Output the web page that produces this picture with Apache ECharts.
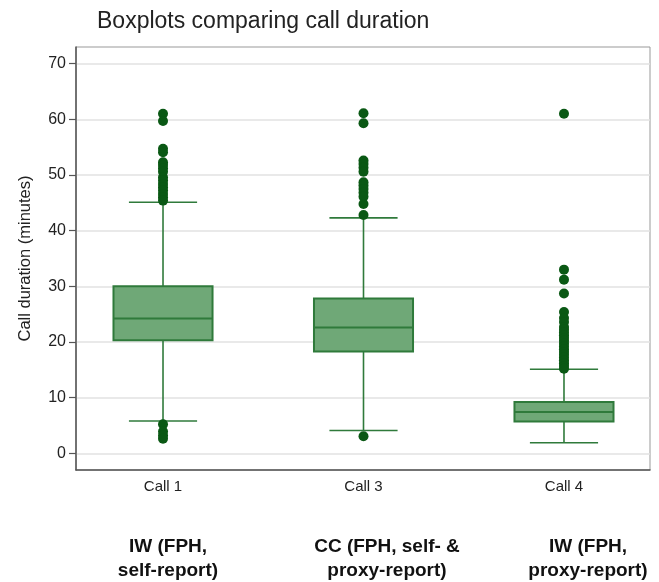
<!DOCTYPE html>
<html>
<head>
<meta charset="utf-8">
<script src="https://cdn.jsdelivr.net/npm/echarts@6/dist/echarts.min.js"></script>
<style>html,body{margin:0;padding:0;background:#fff}#c{width:659px;height:582px}</style>
</head>
<body>
<div id="c"></div>
<script>
const categories = ['Call 1', 'Call 3', 'Call 4'];
const groupLabels = ['IW (FPH,\nself-report)', 'CC (FPH, self- &\nproxy-report)', 'IW (FPH,\nproxy-report)'];
const yTicks = [0, 10, 20, 30, 40, 50, 60, 70];
// [lowerWhisker, Q1, median, Q3, upperWhisker]
const call1Box = [5.8, 20.3, 24.2, 30.0, 45.1];
const call3Box = [4.1, 18.3, 22.6, 27.8, 42.3];
const call4Box = [1.9, 5.7, 7.4, 9.2, 15.1];
const call1Outliers = [61.0, 59.7, 54.7, 54.1, 52.3, 51.8, 51.2, 50.6, 49.6, 49.0, 48.4, 47.8, 47.2, 46.6, 46.0, 45.4, 5.2, 3.9, 3.2, 2.6];
const call3Outliers = [61.1, 59.3, 52.6, 52.0, 51.3, 50.6, 48.7, 48.1, 47.5, 46.8, 46.1, 44.8, 42.8, 3.05];
const call4Outliers = [61.0, 33.0, 31.2, 28.7, 25.4, 24.3, 23.6, 22.7, 22.2, 21.7, 21.2, 20.7, 20.2, 19.7, 19.2, 18.7, 18.2, 17.7, 17.2, 16.7, 16.2, 15.7, 15.2];

const boxes = [call1Box, call3Box, call4Box];
const outliers = [call1Outliers, call3Outliers, call4Outliers];
const boxData = boxes.map((b, i) => [i + 1].concat(b));
const outlierData = [];
outliers.forEach((arr, i) => arr.forEach(v => outlierData.push([i + 1, v])));

const fill = '#6fa877', stroke = '#2f7a3b', dot = '#0a5814';
const ff = 'Liberation Sans, Arial, sans-serif';

const chart = echarts.init(document.getElementById('c'), null, {renderer: 'canvas'});
chart.setOption({
  animation: false,
  backgroundColor: '#fff',
  title: {
    text: 'Boxplots comparing call duration',
    left: 92, top: 5,
    textStyle: {fontFamily: ff, fontSize: 23, fontWeight: 'normal', color: '#222'}
  },
  grid: {left: 76, right: 9, top: 47, bottom: 112, show: true, borderColor: '#999', borderWidth: 1},
  xAxis: {
    type: 'value', min: 0.566, max: 3.429,
    axisLine: {show: true, onZero: false, lineStyle: {color: '#555', width: 1.5}},
    axisTick: {show: false},
    splitLine: {show: false},
    axisLabel: {
      customValues: [1, 2, 3],
      formatter: v => categories[Math.round(v) - 1] || '',
      color: '#222', fontSize: 15, margin: 9, fontFamily: ff
    }
  },
  yAxis: {
    type: 'value', min: -3, max: 73,
    name: 'Call duration (minutes)', nameLocation: 'middle', nameGap: 42, nameRotate: 90,
    nameTextStyle: {fontFamily: ff, fontSize: 16.5, color: '#222'},
    axisLine: {show: true, lineStyle: {color: '#555', width: 1.5}},
    axisTick: {show: true, customValues: yTicks, length: 7, lineStyle: {color: '#555', width: 1.2}},
    axisLabel: {customValues: yTicks, color: '#222', fontSize: 16, margin: 10, fontFamily: ff},
    splitLine: {show: true, lineStyle: {color: '#e2e2e2', width: 1.5}}
  },
  graphic: groupLabels.map((t, i) => ({
    type: 'text',
    x: [168, 387, 588][i], y: 535,
    style: {text: t, textAlign: 'center', fill: '#111', font: 'bold 19px "Liberation Sans", Arial, sans-serif', lineHeight: 24}
  })),
  series: [
    {
      type: 'custom',
      data: boxData,
      encode: {x: 0, y: [1, 2, 3, 4, 5]},
      renderItem: function (params, api) {
        const x = api.value(0);
        const p = [1, 2, 3, 4, 5].map(i => api.coord([x, api.value(i)]));
        const band = api.size([1, 0])[0];
        const hw = band * 0.247, cw = band * 0.17;
        const cx = p[0][0];
        const ls = {stroke: stroke, lineWidth: 1.6, fill: null};
        return {
          type: 'group',
          children: [
            {type: 'line', shape: {x1: cx, y1: p[4][1], x2: cx, y2: p[3][1]}, style: ls},
            {type: 'line', shape: {x1: cx, y1: p[1][1], x2: cx, y2: p[0][1]}, style: ls},
            {type: 'line', shape: {x1: cx - cw, y1: p[4][1], x2: cx + cw, y2: p[4][1]}, style: ls},
            {type: 'line', shape: {x1: cx - cw, y1: p[0][1], x2: cx + cw, y2: p[0][1]}, style: ls},
            {type: 'rect', shape: {x: cx - hw, y: p[3][1], width: hw * 2, height: p[1][1] - p[3][1]},
              style: {fill: fill, stroke: stroke, lineWidth: 2}},
            {type: 'line', shape: {x1: cx - hw, y1: p[2][1], x2: cx + hw, y2: p[2][1]}, style: {stroke: stroke, lineWidth: 2}}
          ]
        };
      },
      z: 2
    },
    {
      type: 'scatter',
      data: outlierData,
      symbol: 'circle', symbolSize: 10,
      itemStyle: {color: dot, opacity: 1},
      z: 3
    }
  ]
});
</script>
</body>
</html>
